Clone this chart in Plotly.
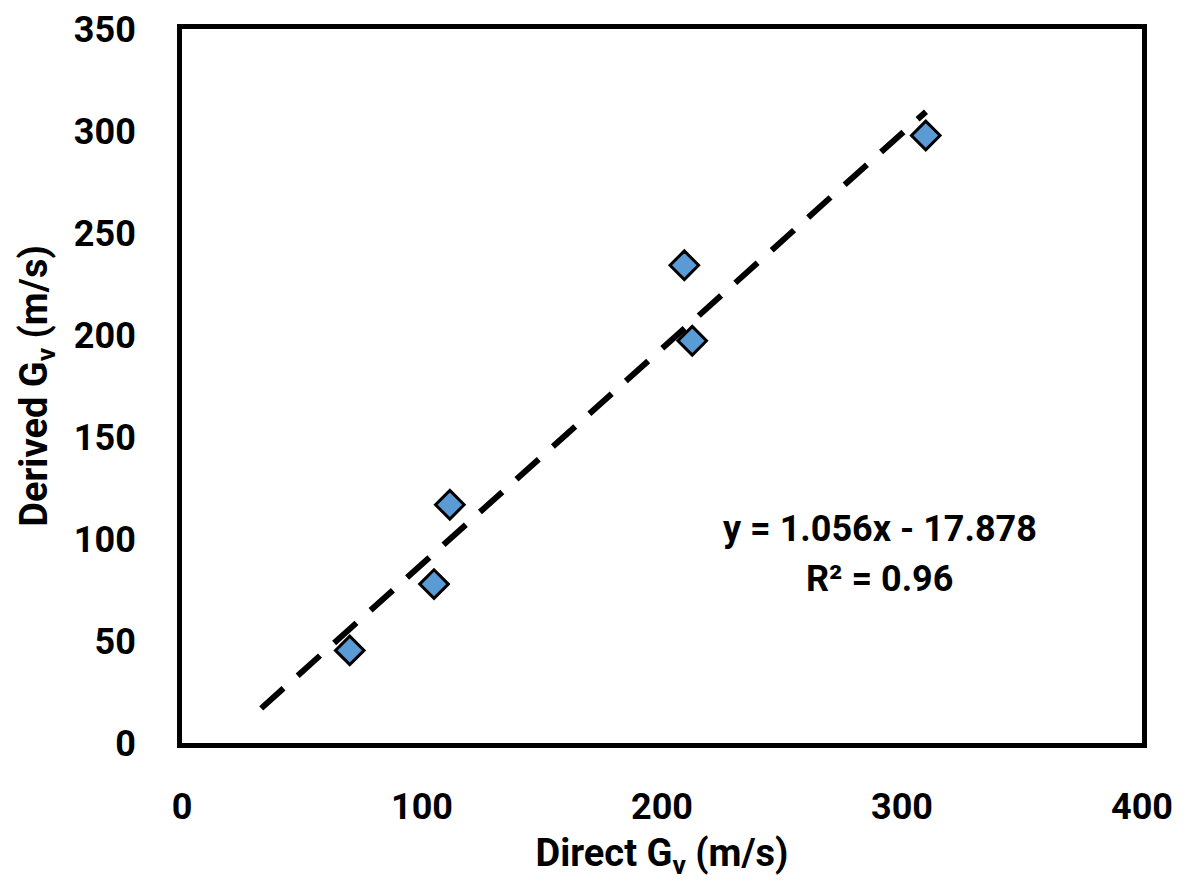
import plotly.graph_objects as go

direct_gv = [69.9, 105.0, 111.6, 209.3, 212.6, 309.9]
derived_gv = [45.4, 77.9, 116.8, 234.2, 197.2, 297.8]
slope = 1.056
intercept = -17.878
r2 = 0.96
trend_x = [33.0, 310.0]
trend_y = [slope * v + intercept for v in trend_x]

FONT = "Roboto"
BOLD36 = dict(family=FONT, size=36, color="black", weight="bold")

fig = go.Figure()
fig.add_trace(go.Scatter(
    x=trend_x, y=trend_y, mode="lines",
    line=dict(color="black", width=6, dash="30px,19px"),
    showlegend=False, hoverinfo="skip"))
fig.add_trace(go.Scatter(
    x=direct_gv, y=derived_gv, mode="markers",
    marker=dict(symbol="diamond", size=22, color="#5B9BD5",
                line=dict(color="black", width=3)),
    showlegend=False))

fig.add_annotation(
    x=0.727, y=0.300, xref="paper", yref="paper", xanchor="center", yanchor="middle",
    text=f"y = {slope}x - {abs(intercept)}", showarrow=False, font=BOLD36)
fig.add_annotation(
    x=0.727, y=0.2295, xref="paper", yref="paper", xanchor="center", yanchor="middle",
    text=f"R² = {r2}", showarrow=False, font=BOLD36)

axis_common = dict(
    showgrid=False, zeroline=False, showline=True, linecolor="black",
    linewidth=5, mirror=True, ticks="", automargin=False,
    tickfont=BOLD36)

fig.update_xaxes(range=[0, 400], tickvals=[0, 100, 200, 300, 400],
                 ticklabelstandoff=28,
                 title=dict(text="Direct G<sub>v</sub> (m/s)", standoff=14,
                            font=dict(family=FONT, size=38, color="black", weight="bold")),
                 **axis_common)
fig.update_yaxes(range=[0, 350], tickvals=[0, 50, 100, 150, 200, 250, 300, 350],
                 ticklabelstandoff=34,
                 title=dict(text="Derived G<sub>v</sub> (m/s)", standoff=16,
                            font=dict(family=FONT, size=38, color="black", weight="bold")),
                 **axis_common)

fig.update_layout(
    width=1177, height=875,
    margin=dict(l=174, r=43, t=21, b=140),
    plot_bgcolor="white", paper_bgcolor="white",
)

fig.write_html("out.html")
